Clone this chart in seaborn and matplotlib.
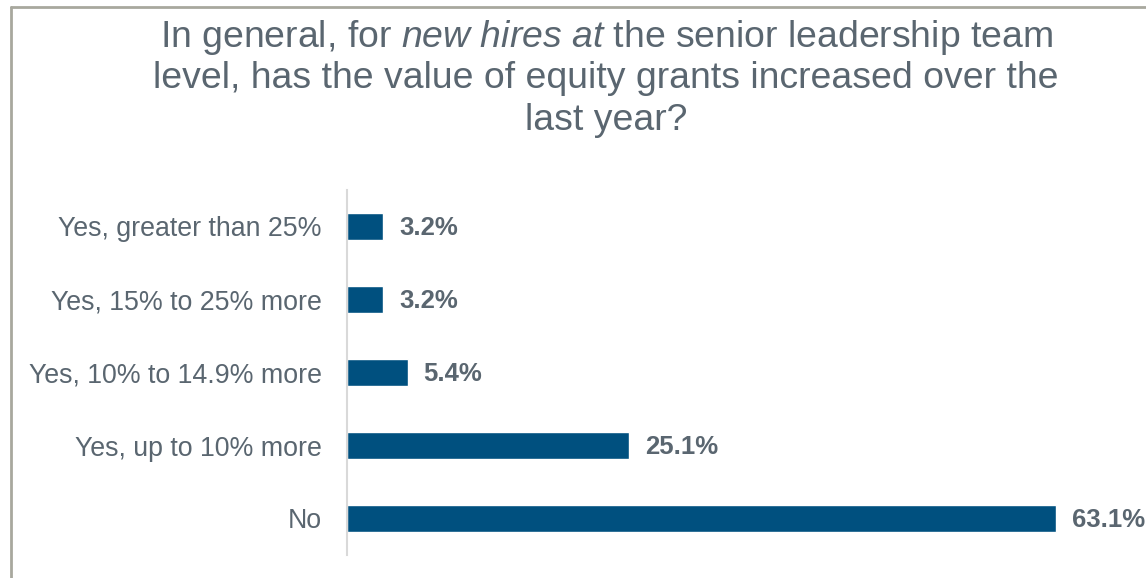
import matplotlib
matplotlib.use("Agg")
import matplotlib.pyplot as plt
import seaborn as sns
import pandas as pd
from matplotlib.lines import Line2D

categories = [
    "Yes, greater than 25%",
    "Yes, 15% to 25% more",
    "Yes, 10% to 14.9% more",
    "Yes, up to 10% more",
    "No",
]
values = [3.2, 3.2, 5.4, 25.1, 63.1]
value_labels = ["3.2%", "3.2%", "5.4%", "25.1%", "63.1%"]
title_lines = [
    "In general, for $\\mathit{new\\ hires\\ at}$ the senior leadership team",
    "level, has the value of equity grants increased over the",
    "last year?",
]

df = pd.DataFrame({"category": categories, "value": values})

sns.set_theme(style="white")
plt.rcParams["font.family"] = ["Liberation Sans", "DejaVu Sans"]
plt.rcParams["mathtext.fontset"] = "custom"
plt.rcParams["mathtext.rm"] = "Liberation Sans"
plt.rcParams["mathtext.it"] = "Liberation Sans:italic"

text_color = "#5A6670"
bar_color = "#00507F"

W, H = 1146, 578
fig = plt.figure(figsize=(W / 100, H / 100), dpi=100)
ax = fig.add_axes([347 / W, 23 / H, (W - 347) / W, 365 / H])

sns.barplot(data=df, x="value", y="category", order=categories,
            color=bar_color, saturation=1, width=0.36, ax=ax)

ax.set_xlim(0, (W - 347) / 11.236)
ax.set_ylim(4.5, -0.5)
ax.set_xlabel("")
ax.set_ylabel("")
ax.set_xticks([])
for side in ["top", "right", "bottom"]:
    ax.spines[side].set_visible(False)
ax.spines["left"].set_color("#D9D9D9")
ax.spines["left"].set_linewidth(1.5)
ax.tick_params(axis="y", length=0, pad=18, labelsize=19.3, labelcolor=text_color)

for i, (v, lab) in enumerate(zip(values, value_labels)):
    ax.annotate(lab, xy=(v, i), xytext=(11.5, -1), textcoords="offset points",
                va="center", ha="left", fontsize=18.5, fontweight="bold",
                color=text_color)

# three-line title, each line placed on its own baseline
for line, base in zip(title_lines, [47, 88, 130]):
    fig.text(606 / W, 1 - base / H, line, ha="center", va="baseline",
             fontsize=26.9, color=text_color)

# frame lines along the top and left edge
fig.add_artist(Line2D([11 / W, 1], [1 - 7 / H, 1 - 7 / H],
                      transform=fig.transFigure, color="#A8A89E", lw=2))
fig.add_artist(Line2D([11 / W, 11 / W], [0, 1 - 7 / H],
                      transform=fig.transFigure, color="#A8A89E", lw=2))

fig.savefig("out.png", dpi=100)
